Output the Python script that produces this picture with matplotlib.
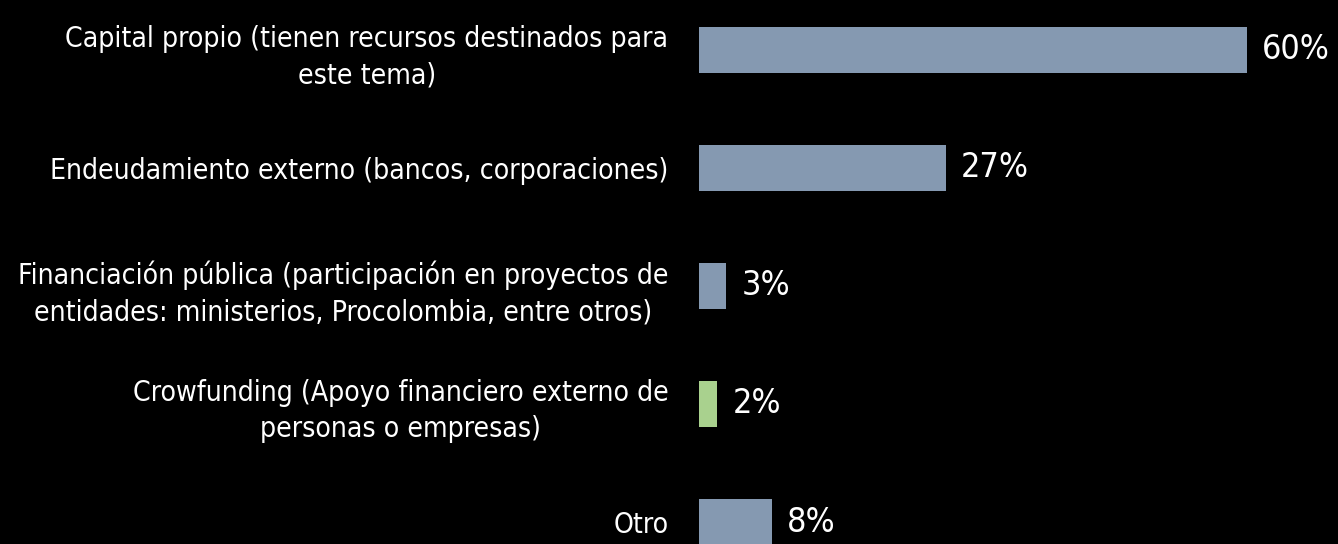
import matplotlib.pyplot as plt
import matplotlib.transforms as mtransforms
from matplotlib import font_manager

categories = [
    'Capital propio (tienen recursos destinados para\neste tema)',
    'Endeudamiento externo (bancos, corporaciones)',
    'Financiación pública (participación en proyectos de\nentidades: ministerios, Procolombia, entre otros)',
    'Crowfunding (Apoyo financiero externo de\npersonas o empresas)',
    'Otro',
]
values = [60, 27, 3, 2, 8]
value_labels = ['60%', '27%', '3%', '2%', '8%']
colors = ['#8599b1', '#8599b1', '#8599b1', '#a9d18e', '#8599b1']

# look for a condensed sans (the original uses Arial Narrow)
narrow = None
for f in font_manager.fontManager.ttflist:
    fn = f.fname.lower()
    if ('narrow' in fn or 'condensed' in fn) and 'bold' not in fn and 'italic' not in fn \
            and 'oblique' not in fn and 'mono' not in fn and 'serif' not in fn:
        narrow = f.fname
        break
if narrow:
    fp = font_manager.FontProperties(fname=narrow)
else:
    fp = font_manager.FontProperties(family='Liberation Sans')

fig = plt.figure(figsize=(13.38, 5.44), dpi=100, facecolor='black')
ax = fig.add_axes([699 / 1338, 0, 639 / 1338, 1], facecolor='black')

pos = list(range(len(categories)))
ax.barh(pos, values, height=0.39, color=colors)
ax.set_xlim(0, 639 / 9.13)
ax.set_ylim(544 / 118 - 50 / 118, -50 / 118)

offset = mtransforms.offset_copy(ax.transData, fig=fig, x=15, y=0, units='dots')
vtexts = []
for p, v, lab in zip(pos, values, value_labels):
    vtexts.append(ax.text(v, p, lab, transform=offset, color='white', fontproperties=fp,
                          fontsize=20, ha='left', va='center'))

ax.set_yticks(pos)
ax.set_yticklabels(categories, color='white')
for lbl in ax.get_yticklabels():
    lbl.set_fontproperties(fp)
    lbl.set_fontsize(20)
    lbl.set_multialignment('center')
    lbl.set_linespacing(1.38)
ax.tick_params(axis='y', length=0, pad=22)
ax.set_xticks([])
for s in ax.spines.values():
    s.set_visible(False)

# size the text so its width matches the original
fig.canvas.draw()
r = fig.canvas.get_renderer()
w_lab = ax.get_yticklabels()[2].get_window_extent(r).width
lab_size = 20 * 652 / w_lab
for lbl in ax.get_yticklabels():
    lbl.set_fontsize(lab_size)
w_val = vtexts[0].get_window_extent(r).width
val_size = 20 * 68 / w_val
for t in vtexts:
    t.set_fontsize(val_size)

fig.savefig('out.png', dpi=100, facecolor='black')
